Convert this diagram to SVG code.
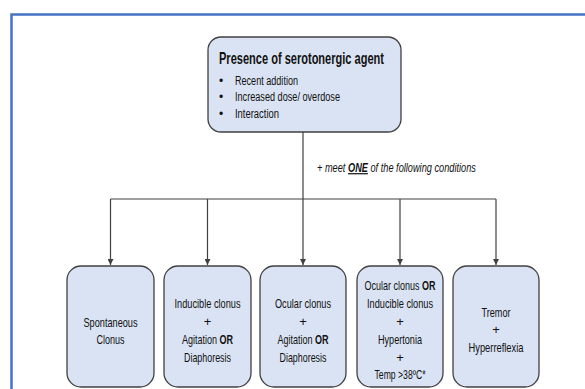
<svg xmlns="http://www.w3.org/2000/svg" width="585" height="389" viewBox="0 0 585 389">
<defs>
<style>
.node rect{fill:#DAE3F3;stroke:#404040;stroke-width:1.3}
text{font-family:"Liberation Sans",Arial,sans-serif;fill:#111;}
.t{font-size:13px;text-anchor:middle}
.b{font-weight:bold}
.conn path{fill:none;stroke:#404040;stroke-width:1.2}
</style>
<marker id="ah" viewBox="0 0 10 10" refX="10" refY="5" markerWidth="6" markerHeight="6" orient="auto" markerUnits="userSpaceOnUse">
<path d="M0,0 L10,5 L0,10 z" fill="#404040"/>
</marker>
</defs>
<rect width="585" height="389" fill="#fff"/>
<path d="M11.5,389 V14.5 H585" fill="none" stroke="#4472C4" stroke-width="2.5"/>

<g class="conn">
<path d="M303,132 V199"/>
<path d="M110.5,199 H496"/>
<path d="M110.5,199 V265" marker-end="url(#ah)"/>
<path d="M207.5,199 V265" marker-end="url(#ah)"/>
<path d="M303,199 V265" marker-end="url(#ah)"/>
<path d="M400,199 V265" marker-end="url(#ah)"/>
<path d="M496,199 V265" marker-end="url(#ah)"/>
</g>

<g id="top" class="node">
<rect x="208" y="37" width="193" height="95" rx="13"/>
<text x="219" y="64" font-size="16.5" class="b" textLength="165" lengthAdjust="spacingAndGlyphs">Presence of serotonergic agent</text>
<text x="219" y="85" font-size="12">•</text>
<text x="235" y="85" font-size="12.5" textLength="63" lengthAdjust="spacingAndGlyphs">Recent addition</text>
<text x="219" y="101" font-size="12">•</text>
<text x="235" y="101" font-size="12.5" textLength="105" lengthAdjust="spacingAndGlyphs">Increased dose/ overdose</text>
<text x="219" y="118" font-size="12">•</text>
<text x="235" y="118" font-size="12.5" textLength="44" lengthAdjust="spacingAndGlyphs">Interaction</text>
</g>

<g id="cond">
<text transform="translate(317,172) scale(0.768,1)" x="0" y="0" font-size="12" font-style="italic">+ meet <tspan font-weight="bold" text-decoration="underline">ONE</tspan> of the following conditions</text>
</g>

<g id="n1" class="node">
<rect x="67" y="266" width="87" height="121" rx="14"/>
<text class="t" x="110.5" y="327" textLength="54" lengthAdjust="spacingAndGlyphs">Spontaneous</text>
<text class="t" x="110.5" y="344" textLength="28" lengthAdjust="spacingAndGlyphs">Clonus</text>
</g>

<g id="n2" class="node">
<rect x="164" y="266" width="87" height="121" rx="14"/>
<text class="t" x="207.5" y="308" textLength="66" lengthAdjust="spacingAndGlyphs">Inducible clonus</text>
<text class="t" x="207.5" y="326">+</text>
<text class="t" transform="translate(207.5,344) scale(0.695,1)" x="0" y="0">Agitation <tspan class="b">OR</tspan></text>
<text class="t" x="207.5" y="362" textLength="47" lengthAdjust="spacingAndGlyphs">Diaphoresis</text>
</g>

<g id="n3" class="node">
<rect x="260" y="266" width="86" height="121" rx="14"/>
<text class="t" x="303" y="308" textLength="56" lengthAdjust="spacingAndGlyphs">Ocular clonus</text>
<text class="t" x="303" y="326">+</text>
<text class="t" transform="translate(303,344) scale(0.695,1)" x="0" y="0">Agitation <tspan class="b">OR</tspan></text>
<text class="t" x="303" y="362" textLength="47" lengthAdjust="spacingAndGlyphs">Diaphoresis</text>
</g>

<g id="n4" class="node">
<rect x="357" y="266" width="86" height="121" rx="14"/>
<text class="t" transform="translate(400,290) scale(0.692,1)" x="0" y="0">Ocular clonus <tspan class="b">OR</tspan></text>
<text class="t" x="400" y="308" textLength="66" lengthAdjust="spacingAndGlyphs">Inducible clonus</text>
<text class="t" x="400" y="326">+</text>
<text class="t" x="400" y="344" textLength="44" lengthAdjust="spacingAndGlyphs">Hypertonia</text>
<text class="t" x="400" y="362">+</text>
<text class="t" x="400" y="379" textLength="51" lengthAdjust="spacingAndGlyphs">Temp &gt;38ºC*</text>
</g>

<g id="n5" class="node">
<rect x="453" y="266" width="86" height="121" rx="14"/>
<text class="t" x="496" y="317" textLength="29" lengthAdjust="spacingAndGlyphs">Tremor</text>
<text class="t" x="496" y="334">+</text>
<text class="t" x="496" y="352" textLength="55" lengthAdjust="spacingAndGlyphs">Hyperreflexia</text>
</g>
</svg>
